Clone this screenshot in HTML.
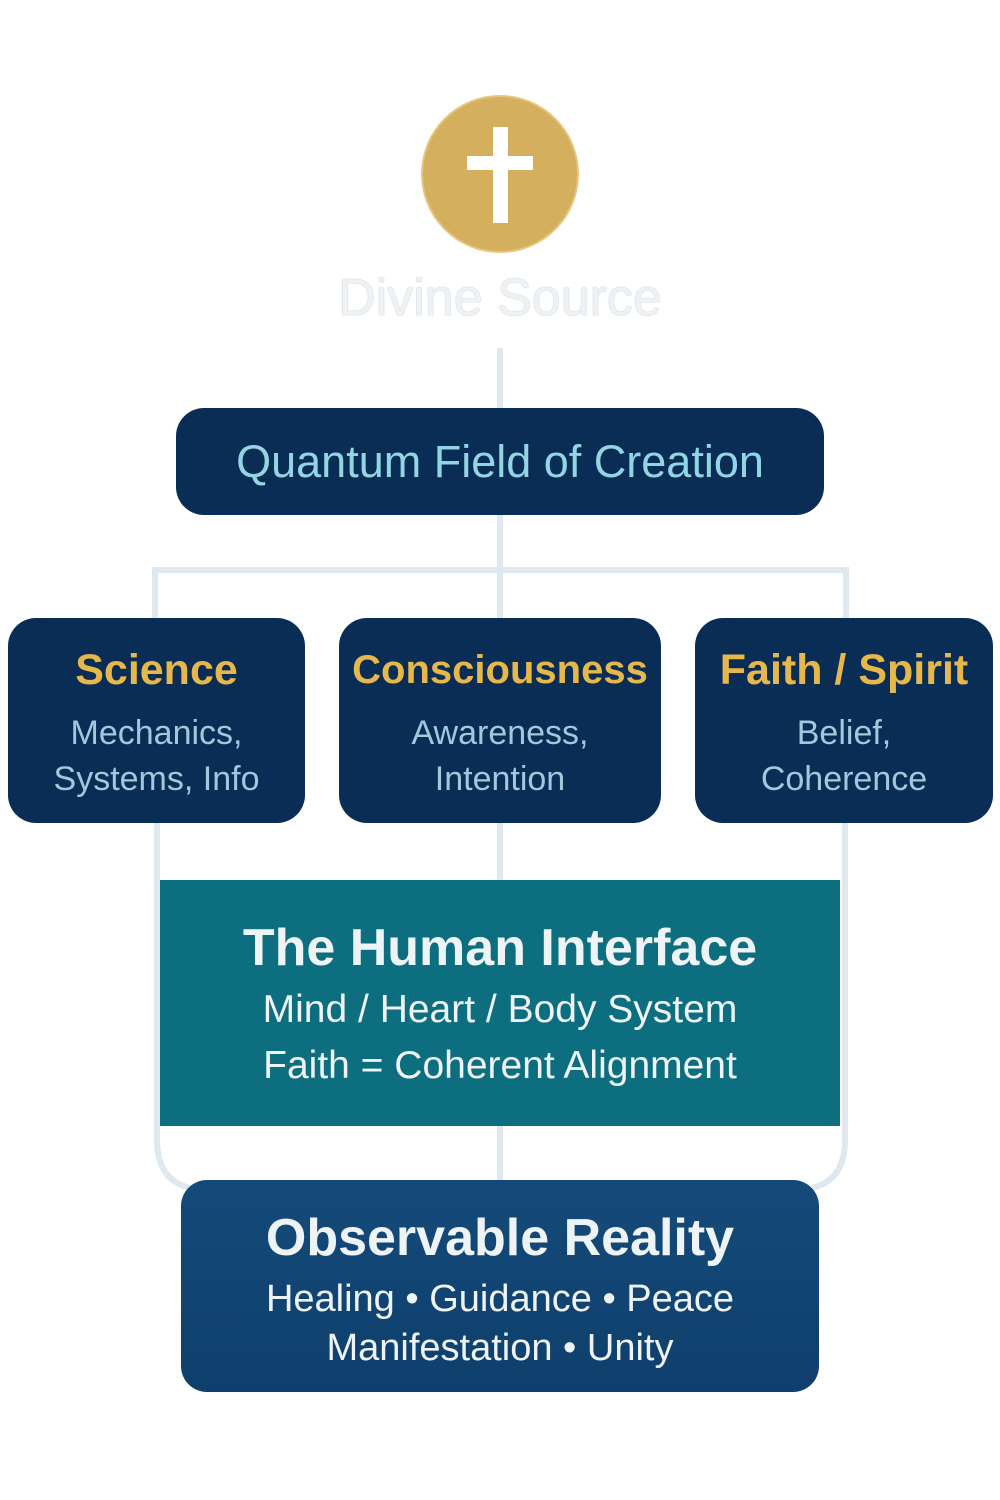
<!DOCTYPE html>
<html><head><meta charset="utf-8"><style>
html,body{margin:0;padding:0;background:#fff;}
body{width:1000px;height:1500px;position:relative;overflow:hidden;font-family:"Liberation Sans",sans-serif;}
.a{position:absolute;}
.box{position:absolute;box-sizing:border-box;text-align:center;}
.c{position:absolute;left:0;right:0;text-align:center;white-space:nowrap;}
</style></head><body>
<svg class="a" style="left:0;top:0" width="1000" height="1500">
  <g fill="none" stroke="#dfe8ef" stroke-width="6">
    <line x1="500" y1="348" x2="500" y2="410"/>
    <line x1="500" y1="513" x2="500" y2="620"/>
    <path d="M155 620 V570 H846 V620"/>
    <line x1="500" y1="820" x2="500" y2="882"/>
    <line x1="500" y1="1124" x2="500" y2="1182"/>
    <path d="M157 820 V1140 Q157 1180 190 1188"/>
    <path d="M845 820 V1140 Q845 1180 812 1188"/>
  </g>
  <circle cx="500" cy="174" r="78" fill="#d4af5e" stroke="#e6c77f" stroke-width="2"/>
  <rect x="493" y="127" width="15" height="96" fill="#fff"/>
  <rect x="467" y="156" width="66" height="14" fill="#fff"/>
</svg>
<div class="c" style="top:268px;font-size:52px;color:#eef2f5;text-shadow:0 0 1px #b8c4cc,0 0 1px #b8c4cc;">Divine Source</div>

<div class="box" style="left:176px;top:408px;width:648px;height:107px;border-radius:28px;background:#0a2d56;">
  <div class="c" style="top:28px;font-size:45px;color:#93d5e2;">Quantum Field of Creation</div>
</div>

<div class="box" style="left:8px;top:618px;width:297px;height:205px;border-radius:28px;background:#0a2d56;">
  <div class="c" style="top:28px;font-size:43px;font-weight:bold;color:#e6b84c;">Science</div>
  <div class="c" style="top:92px;font-size:34px;color:#a3c7dc;line-height:46px;">Mechanics,<br>Systems, Info</div>
</div>
<div class="box" style="left:339px;top:618px;width:322px;height:205px;border-radius:28px;background:#0a2d56;">
  <div class="c" style="top:30px;font-size:40px;font-weight:bold;color:#e6b84c;">Consciousness</div>
  <div class="c" style="top:92px;font-size:34px;color:#a3c7dc;line-height:46px;">Awareness,<br>Intention</div>
</div>
<div class="box" style="left:695px;top:618px;width:298px;height:205px;border-radius:28px;background:#0a2d56;">
  <div class="c" style="top:28px;font-size:43px;font-weight:bold;color:#e6b84c;">Faith / Spirit</div>
  <div class="c" style="top:92px;font-size:34px;color:#a3c7dc;line-height:46px;">Belief,<br>Coherence</div>
</div>

<div class="box" style="left:160px;top:880px;width:680px;height:246px;background:#0d6e80;">
  <div class="c" style="top:38px;font-size:52px;font-weight:bold;color:#eef3f5;">The Human Interface</div>
  <div class="c" style="top:108px;font-size:39px;color:#eef3f5;">Mind / Heart / Body System</div>
  <div class="c" style="top:164px;font-size:39px;color:#eef3f5;">Faith = Coherent Alignment</div>
</div>

<div class="box" style="left:181px;top:1180px;width:638px;height:212px;border-radius:26px;background:linear-gradient(#144a7a,#0f3f6c);">
  <div class="c" style="top:28px;font-size:52px;font-weight:bold;color:#eef3f5;">Observable Reality</div>
  <div class="c" style="top:98px;font-size:38px;color:#eef3f5;">Healing • Guidance • Peace</div>
  <div class="c" style="top:147px;font-size:38px;color:#eef3f5;">Manifestation • Unity</div>
</div>
</body></html>
